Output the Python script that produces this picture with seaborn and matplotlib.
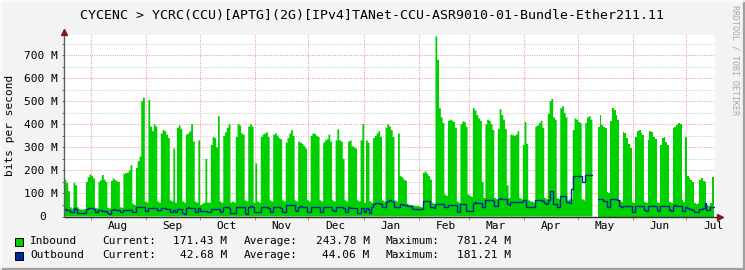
import numpy as np
import pandas as pd
import matplotlib
matplotlib.use("Agg")
import matplotlib.pyplot as plt
import matplotlib.dates as mdates
from matplotlib.ticker import MultipleLocator
from matplotlib.patches import Rectangle
from matplotlib.transforms import ScaledTranslation
import seaborn as sns

# ---------------- data ----------------
TITLE = "CYCENC > YCRC(CCU)[APTG](2G)[IPv4]TANet-CCU-ASR9010-01-Bundle-Ether211.11"
START = "2024-07-16 08:00"          # first daily sample (one value per day)
X_START = "2024-07-17 00:00"
X_END = "2025-07-17 02:30"
nan = float("nan")

# Inbound, Mbit/s, one value per day (rows = Mon..Sun weeks after the first partial week)
inbound_M = [
    165, 160, 145, 110, 40, 35,                 # Jul 16-21
    145, 135, 40, 32, 30, 30, 32,               # Jul 22
    150, 170, 182, 175, 165, 38, 35,            # Jul 29
    150, 158, 180, 160, 150, 38, 35,            # Aug 5
    155, 165, 158, 152, 150, 40, 38,            # Aug 12
    185, 188, 190, 200, 222, 55, 50,            # Aug 19
    210, 240, 260, 500, 515, 65, 60,            # Aug 26
    505, 390, 370, 400, 390, 65, 60,            # Sep 2
    360, 375, 370, 355, 340, 70, 65,            # Sep 9
    295, 60, 385, 395, 380, 65, 60,             # Sep 16
    355, 360, 370, 400, 325, 65, 60,            # Sep 23
    330, 50, 55, 60, 250, 60, 60,               # Sep 30
    310, 345, 340, 300, 435, 65, 60,            # Oct 7
    350, 365, 385, 400, 60, 65, 60,             # Oct 14
    345, 400, 395, 360, 355, 70, 65,            # Oct 21
    390, 400, 390, 60, 230, 65, 60,             # Oct 28
    345, 355, 360, 365, 345, 70, 65,            # Nov 4
    355, 360, 350, 340, 335, 70, 65,            # Nov 11
    320, 340, 360, 375, 350, 70, 65,            # Nov 18
    325, 320, 315, 305, 295, 70, 65,            # Nov 25
    350, 360, 358, 350, 345, 70, 65,            # Dec 2
    320, 330, 335, 355, 325, 70, 65,            # Dec 9
    330, 378, 330, 325, 250, 70, 65,            # Dec 16
    325, 330, 305, 300, 295, 70, 65,            # Dec 23
    330, 400, 60, 330, 320, 65, 60,             # Dec 30
    340, 350, 360, 370, 345, 70, 65,            # Jan 6
    385, 400, 390, 375, 345, 70, 65,            # Jan 13
    360, 175, 170, 160, 155, 55, 50,            # Jan 20
    50, 48, 45, 45, 45, 42, 40,                 # Jan 27
    190, 195, 185, 175, 160, 60, 55,            # Feb 3
    781.24, 680, 470, 430, 405, 95, 90,         # Feb 10
    415, 420, 415, 410, 385, 65, 60,            # Feb 17
    400, 412, 410, 390, 95, 90, 85,             # Feb 24
    470, 460, 440, 425, 415, 150, 80,           # Mar 3
    400, 420, 415, 400, 375, 80, 75,            # Mar 10
    380, 465, 440, 420, 380, 135, 80,           # Mar 17
    355, 352, 350, 355, 370, 80, 75,            # Mar 24
    310, 410, 315, 70, 65, 65, 60,              # Mar 31
    390, 395, 405, 415, 385, 80, 75,            # Apr 7
    445, 500, 510, 430, 420, 80, 75,            # Apr 14
    470, 478, 450, 430, 70, 75, 75,             # Apr 21
    375, 425, 420, 410, 405, 75, 70,            # Apr 28
    405, 430, 435, 420, nan, nan, nan,          # May 5
    390, 440, 395, 390, 385, 105, 100,          # May 12
    415, 470, 460, 440, 420, 70, 65,            # May 19
    365, 360, 340, 315, 295, 65, 60,            # May 26
    345, 370, 375, 360, 355, 65, 60,            # Jun 2
    330, 370, 365, 345, 335, 65, 60,            # Jun 9
    310, 340, 345, 325, 310, 65, 60,            # Jun 16
    385, 390, 395, 405, 400, 70, 65,            # Jun 23
    345, 175, 168, 160, 150, 60, 55,            # Jun 30
    60, 160, 165, 155, 150, 50, 45,             # Jul 7
    60, 171.43,                                 # Jul 14-15
]

# Outbound, Mbit/s, one value per day
outbound_M = [
    32, 32, 30, 28, 19, 18,                     # Jul 16-21
    35, 34, 17, 16, 16, 15, 15,                 # Jul 22
    34, 35, 35, 35, 34, 20, 19,                 # Jul 29
    27, 27, 26, 26, 26, 14, 13,                 # Aug 5
    30, 31, 30, 30, 29, 20, 19,                 # Aug 12
    29, 30, 30, 30, 29, 20, 19,                 # Aug 19
    40, 41, 41, 40, 40, 26, 25,                 # Aug 26
    37, 38, 37, 37, 36, 30, 28,                 # Sep 2
    35, 35, 35, 34, 34, 20, 20,                 # Sep 9
    30, 20, 33, 33, 32, 14, 13,                 # Sep 16
    38, 40, 38, 37, 35, 20, 19,                 # Sep 23
    35, 25, 24, 24, 24, 20, 20,                 # Sep 30
    32, 33, 32, 32, 31, 20, 22,                 # Oct 7
    40, 40, 40, 38, 15, 14, 14,                 # Oct 14
    40, 41, 40, 40, 40, 14, 13,                 # Oct 21
    43, 44, 43, 20, 20, 18, 18,                 # Oct 28
    40, 41, 40, 40, 39, 20, 18,                 # Nov 4
    40, 41, 40, 40, 39, 20, 18,                 # Nov 11
    50, 52, 52, 51, 50, 27, 25,                 # Nov 18
    43, 44, 43, 43, 42, 20, 18,                 # Nov 25
    40, 41, 41, 40, 40, 20, 18,                 # Dec 2
    40, 41, 41, 40, 40, 27, 25,                 # Dec 9
    40, 41, 41, 40, 39, 20, 18,                 # Dec 16
    40, 39, 37, 36, 35, 15, 14,                 # Dec 23
    35, 36, 20, 35, 34, 14, 40,                 # Dec 30
    55, 58, 60, 58, 56, 40, 40,                 # Jan 6
    65, 68, 70, 66, 62, 40, 40,                 # Jan 13
    42, 53, 53, 52, 50, 47, 46,                 # Jan 20
    46, 34, 33, 33, 33, 33, 32,                 # Jan 27
    67, 68, 67, 66, 40, 40, 38,                 # Feb 3
    55, 56, 56, 55, 54, 40, 40,                 # Feb 10
    50, 52, 50, 50, 48, 19, 19,                 # Feb 17
    53, 54, 53, 26, 26, 25, 25,                 # Feb 24
    60, 61, 60, 60, 60, 40, 40,                 # Mar 3
    70, 71, 70, 70, 69, 47, 47,                 # Mar 10
    78, 79, 78, 78, 77, 53, 52,                 # Mar 17
    63, 64, 63, 63, 63, 62, 62,                 # Mar 24
    70, 71, 40, 40, 40, 40, 40,                 # Mar 31
    70, 71, 70, 70, 69, 57, 56,                 # Apr 7
    70, 110, 112, 53, 53, 40, 40,               # Apr 14
    88, 87, 87, 62, 62, 60, 120,                # Apr 21
    175, 176, 176, 175, 174, 150, 150,          # Apr 28
    180, 181, 181.21, 180, nan, nan, nan,       # May 5
    77, 77, 76, 66, 66, 43, 43,                 # May 12
    74, 75, 74, 74, 72, 45, 42,                 # May 19
    46, 47, 47, 46, 45, 20, 19,                 # May 26
    45, 46, 45, 45, 44, 28, 25,                 # Jun 2
    45, 45, 46, 45, 44, 28, 26,                 # Jun 9
    45, 45, 46, 45, 44, 27, 25,                 # Jun 16
    47, 48, 47, 46, 45, 26, 24,                 # Jun 23
    40, 35, 33, 32, 30, 19, 18,                 # Jun 30
    20, 32, 34, 35, 60, 30, 28,                 # Jul 7
    40, 42.68,                                  # Jul 14-15
]

series_names = ["Inbound", "Outbound"]
series_colors = ["#00CF00", "#002A97"]
current_vals = ["171.43 M", "42.68 M"]
average_vals = ["243.78 M", "44.06 M"]
maximum_vals = ["781.24 M", "181.21 M"]
y_ticks_M = [0, 100, 200, 300, 400, 500, 600, 700]
y_tick_labels = ["0", "100 M", "200 M", "300 M", "400 M", "500 M", "600 M", "700 M"]
Y_LABEL = "bits per second"
WATERMARK = "RRDTOOL / TOBI OETIKER"

# ---------------- style ----------------
sns.set_theme(style="white")
plt.rcParams["font.family"] = ["DejaVu Sans Mono", "DejaVu Sans"]
plt.rcParams["text.color"] = "black"

W, H = 745, 270
BG = "#F3F3F3"
fig = plt.figure(figsize=(W / 100, H / 100), dpi=100, facecolor=BG)


def fx(px):
    return px / W


def fy(py):
    return 1 - py / H


PL, PR, PT, PB = 64, 715, 35.5, 216.5
ax = fig.add_axes([fx(PL), fy(PB), fx(PR - PL), (PB - PT) / H])
ax.set_facecolor("white")

# ---------------- series ----------------
n = len(inbound_M)
edges = pd.date_range(START, periods=n + 1, freq="D")
e = mdates.date2num(edges.to_pydatetime())
xs = np.column_stack([e[:-1], e[1:]]).ravel()
y_in = np.repeat(np.array(inbound_M, dtype=float), 2)
y_out = np.repeat(np.array(outbound_M, dtype=float), 2)

ax.fill_between(xs, 0, y_in, color=series_colors[0], lw=0, zorder=2)

df_out = pd.DataFrame({"t": xs, "v": y_out})
df_out["seg"] = df_out["v"].isna().cumsum()
df_out = df_out.dropna()
sns.lineplot(data=df_out, x="t", y="v", units="seg", estimator=None, sort=False,
             color=series_colors[1], lw=1.0, ax=ax, legend=False, zorder=3)
ax.set_xlabel("")
ax.set_ylabel("")

# ---------------- axes ----------------
ax.set_xlim(mdates.date2num(pd.Timestamp(X_START)), mdates.date2num(pd.Timestamp(X_END)))
ax.set_ylim(0, 785)
for s in ax.spines.values():
    s.set_visible(False)

ax.xaxis.set_major_locator(mdates.MonthLocator(bymonthday=16))
ax.xaxis.set_major_formatter(mdates.DateFormatter("%b"))
ax.xaxis.set_minor_locator(mdates.MonthLocator(bymonthday=1))
ax.tick_params(axis="x", which="both", bottom=True, top=False)
ax.tick_params(axis="x", which="major", length=0, pad=3.0, labelsize=8, labelcolor="black")
ax.tick_params(axis="x", which="minor", length=2.2, width=0.7, color="#E07070", direction="out")

ax.set_yticks(y_ticks_M)
ax.set_yticklabels(y_tick_labels)
ax.yaxis.set_minor_locator(MultipleLocator(50))
ax.tick_params(axis="y", which="both", left=True, right=False, length=1.8, width=0.7,
               color="#707070", direction="out")
ax.tick_params(axis="y", which="major", pad=3.0, labelsize=8, labelcolor="black")

RED_GRID = "#F0A0A0"
GRAY_GRID = "#CFCFCF"
dots = (0, (1.0, 1.2))
ax.xaxis.grid(True, which="minor", color=RED_GRID, ls=dots, lw=0.75)
ax.xaxis.grid(False, which="major")
ax.yaxis.grid(True, which="major", color=RED_GRID, ls=dots, lw=0.75)
ax.yaxis.grid(True, which="minor", color=GRAY_GRID, ls=dots, lw=0.75)
ax.set_axisbelow(True)

# shift the lone "0" label like rrdtool does
lab0 = ax.yaxis.get_majorticklabels()[0]
lab0.set_transform(lab0.get_transform() + ScaledTranslation(-11 / 100, 0, fig.dpi_scale_trans))

# axis lines with arrows
ax.plot([0, 0], [0, 1.02], transform=ax.transAxes, color="#606060", lw=1.0,
        clip_on=False, zorder=6, solid_capstyle="butt")
ax.plot([0, 1.006], [0, 0], transform=ax.transAxes, color="#303030", lw=1.0,
        clip_on=False, zorder=6, solid_capstyle="butt")
ax.plot([0], [1.02], marker="^", ms=5, color="#7F1A1A", transform=ax.transAxes,
        clip_on=False, zorder=7)
ax.plot([1.008], [0], marker=">", ms=5, color="#7F1A1A", transform=ax.transAxes,
        clip_on=False, zorder=7)

# ---------------- texts ----------------
fig.text(0.5, fy(15), TITLE, ha="center", va="center", fontsize=9.5, color="black")
fig.text(fx(10), fy(125.5), Y_LABEL, rotation=90, ha="center", va="center",
         fontsize=8, color="black")
fig.text(fx(735), fy(60), WATERMARK, rotation=270, ha="center", va="center",
         fontsize=6, color="#A8A8A8")

rows_y = [241.5, 255.5]
for i in range(2):
    yy = rows_y[i]
    fig.add_artist(Rectangle((fx(15), fy(yy + 4)), 8 / W, 8 / H, transform=fig.transFigure,
                             facecolor=series_colors[i], edgecolor="black", lw=0.7))
    fig.text(fx(30), fy(yy), series_names[i], ha="left", va="center", fontsize=8)
    fig.text(fx(102), fy(yy), "Current:", ha="left", va="center", fontsize=8)
    fig.text(fx(227), fy(yy), current_vals[i], ha="right", va="center", fontsize=8)
    fig.text(fx(244), fy(yy), "Average:", ha="left", va="center", fontsize=8)
    fig.text(fx(369.5), fy(yy), average_vals[i], ha="right", va="center", fontsize=8)
    fig.text(fx(386), fy(yy), "Maximum:", ha="left", va="center", fontsize=8)
    fig.text(fx(511), fy(yy), maximum_vals[i], ha="right", va="center", fontsize=8)

# 3-D style frame of the image
fig.add_artist(plt.Line2D([0, 1], [fy(269), fy(269)], transform=fig.transFigure,
                          color="#A0A0A0", lw=1.6))
fig.add_artist(plt.Line2D([fx(744), fx(744)], [0, 1], transform=fig.transFigure,
                          color="#A0A0A0", lw=1.6))
fig.add_artist(plt.Line2D([0, 1], [fy(0.5), fy(0.5)], transform=fig.transFigure,
                          color="#FCFCFC", lw=1.2))
fig.add_artist(plt.Line2D([fx(0.5), fx(0.5)], [0, 1], transform=fig.transFigure,
                          color="#FCFCFC", lw=1.2))

fig.savefig("out.png", dpi=100, facecolor=BG)
